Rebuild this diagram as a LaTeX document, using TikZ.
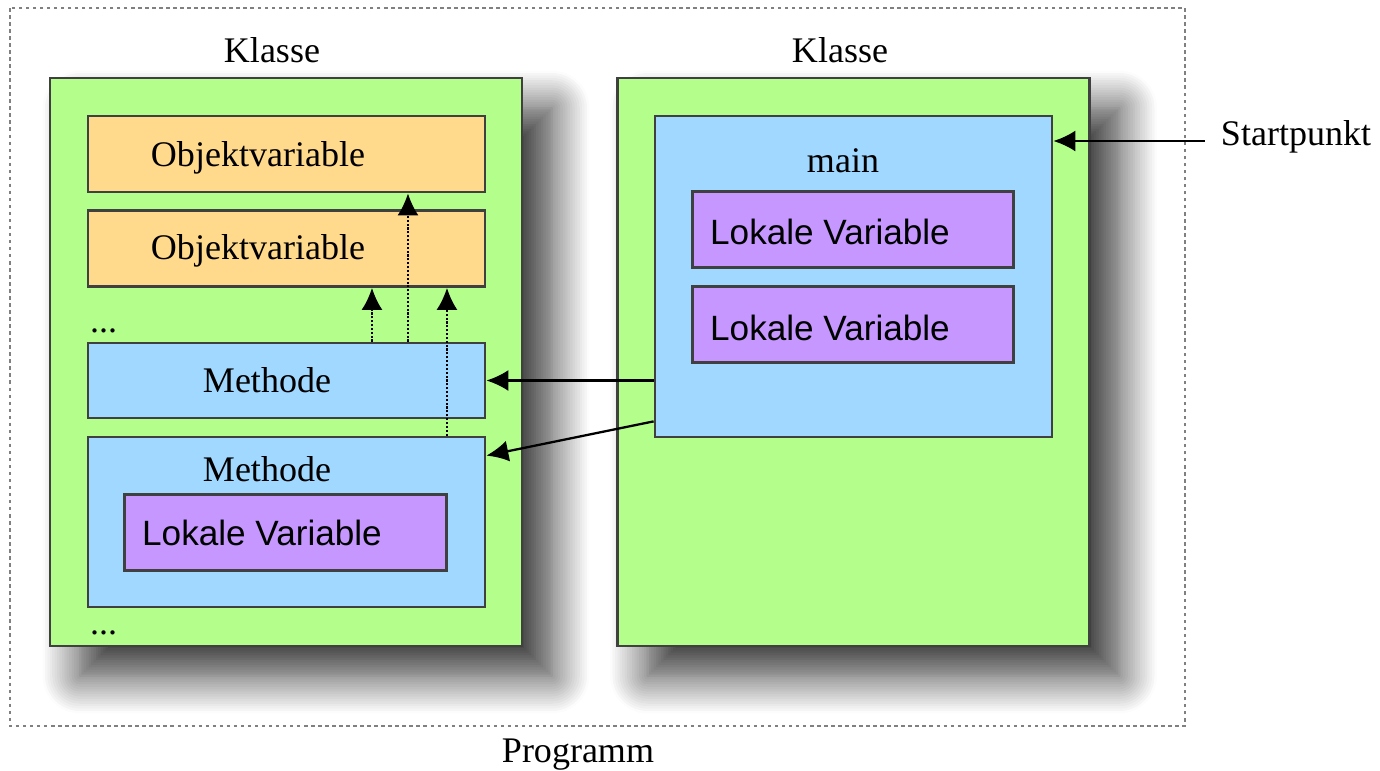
\documentclass[tikz,border=0pt]{standalone}
\usepackage{fontspec}
\setmainfont{Liberation Serif}
\setsansfont{Liberation Sans}
\usetikzlibrary{arrows.meta,positioning,shadows.blur}

\definecolor{klassgreen}{RGB}{180,255,140}
\definecolor{varorange}{RGB}{255,217,140}
\definecolor{methblue}{RGB}{160,216,255}
\definecolor{lokpurple}{RGB}{197,151,255}

\tikzset{
  box/.style={draw=black!75,line width=1.6pt,inner sep=0pt},
  klasse/.style={box,fill=klassgreen,minimum width=9.44cm,minimum height=11.36cm,
    blur shadow={shadow xshift=0.6cm,shadow yshift=-0.6cm,shadow blur radius=0.75cm,
      shadow opacity=80,shadow blur steps=16}},
  objvar/.style={box,fill=varorange,minimum width=7.94cm,minimum height=1.52cm},
  methode/.style={box,fill=methblue,minimum width=7.94cm,minimum height=#1},
  lokal/.style={box,fill=lokpurple,minimum width=6.43cm,minimum height=1.52cm},
  txt/.style={font=\fontsize{20.5}{24}\selectfont,text height=1.5ex,text depth=.3ex,yshift=-0.16cm},
  ltxt/.style={font=\sffamily\fontsize{20}{24}\selectfont,text height=1.5ex,text depth=.3ex,yshift=-0.14cm},
  arr/.style={-{Latex[length=4.4mm,width=4.2mm]},line width=1.3pt},
  darr/.style={-{Latex[length=4.4mm,width=4.2mm]},line width=1.2pt,densely dotted,black}
}

\begin{document}
\begin{tikzpicture}[x=0.02cm,y=-0.02cm]
  \useasboundingbox (0,0) rectangle (1380,771);

  % program frame
  \draw[gray,line width=0.8pt,dash pattern=on 2pt off 2pt] (10,8) rectangle (1185,726);
  \node[txt] (prog) at (578,750) {Programm};

  % left class
  \node[klasse] (k1) at (286,362) {};
  \node[txt] at (272,50) {Klasse};
  \node[objvar] (o1) at (286.5,154) {};
  \node[txt] at (258,154) {Objektvariable};
  \node[objvar] (o2) at (286.5,248.5) {};
  \node[txt] at (258,247) {Objektvariable};
  \node[txt,anchor=west] at (84,320) {...};
  \node[methode=1.5cm] (m1) at (286.5,380.5) {};
  \node[txt] at (267,380) {Methode};
  \node[methode=3.4cm] (m2) at (286.5,522) {};
  \node[txt] at (267,469) {Methode};
  \node[lokal] (l1) at (285.5,532.5) {};
  \node[ltxt] at (262,534) {Lokale Variable};
  \node[txt,anchor=west] at (84,622) {...};

  % right class
  \node[klasse] (k2) at (853.5,362) {};
  \node[txt] at (840,50) {Klasse};
  \node[methode=6.42cm] (main) at (853.5,276.5) {};
  \node[txt] at (843,160) {main};
  \node[lokal] (l2) at (853,229.5) {};
  \node[ltxt] at (830,233) {Lokale Variable};
  \node[lokal] (l3) at (853,324.5) {};
  \node[ltxt] at (830,329) {Lokale Variable};

  \node[txt] (start) at (1296,133) {Startpunkt};

  % calls
  \draw[arr] ([xshift=-0.2cm]start.west) -- (start.west -| main.east);
  \draw[arr] (main.west |- m1.east) -- (m1.east);
  \draw[arr] ([yshift=0.34cm]main.south west) -- ([yshift=-0.4cm]m2.north east);

  % access to object variables
  \coordinate (d1) at ([xshift=1.71cm]m1.north);
  \coordinate (d2) at ([xshift=2.43cm]m1.north);
  \coordinate (d3) at ([xshift=3.21cm]m2.north);
  \draw[darr] (d1) -- (d1 |- o2.south);
  \draw[darr] (d2) -- (d2 |- o1.south);
  \draw[darr] (d3) -- (d3 |- o2.south);
\end{tikzpicture}
\end{document}
